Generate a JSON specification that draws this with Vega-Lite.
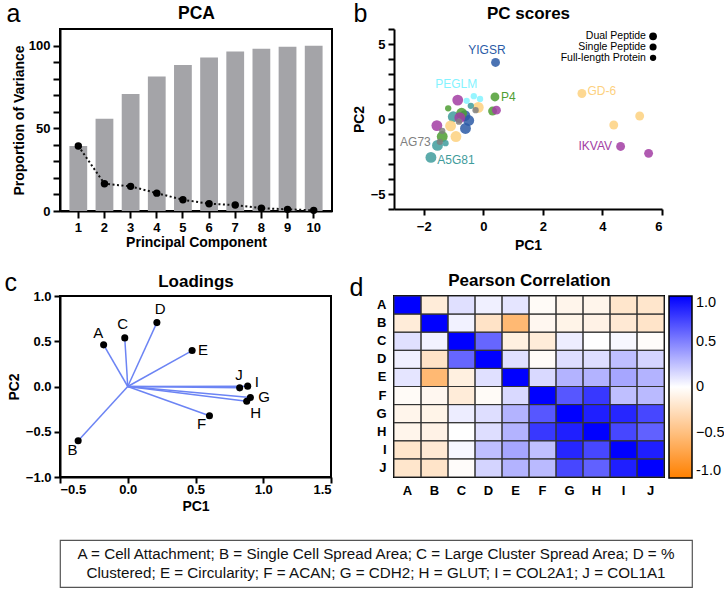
{
  "$schema": "https://vega.github.io/schema/vega-lite/v6.json",
  "background": "white",
  "padding": {"left": 3, "top": 0, "right": 0, "bottom": 0},
  "config": {
    "font": "Liberation Sans",
    "view": {"stroke": null},
    "axis": {
      "labelFont": "Liberation Sans", "titleFont": "Liberation Sans",
      "labelFontWeight": "bold", "titleFontWeight": "bold",
      "labelFontSize": 13, "titleFontSize": 14,
      "labelColor": "black", "titleColor": "black",
      "domainColor": "black", "domainWidth": 2,
      "tickColor": "black", "tickWidth": 2, "tickSize": 6,
      "grid": false
    },
    "legend": {"labelFont": "Liberation Sans"}
  },
  "vconcat": [
    {
      "concat": [
        {
          "width": 272, "height": 182,
          "view": {"stroke": "black", "strokeWidth": 2},
          "data": {"values": [
            {"pc": 1, "cum": 39.3, "var": 39.3},
            {"pc": 2, "cum": 55.8, "var": 16.5},
            {"pc": 3, "cum": 70.7, "var": 14.9},
            {"pc": 4, "cum": 81.3, "var": 10.8},
            {"pc": 5, "cum": 88.2, "var": 6.8},
            {"pc": 6, "cum": 92.8, "var": 4.4},
            {"pc": 7, "cum": 96.4, "var": 3.6},
            {"pc": 8, "cum": 98.0, "var": 1.7},
            {"pc": 9, "cum": 99.3, "var": 1.0},
            {"pc": 10, "cum": 99.9, "var": 0.4}
          ]},
          "layer": [
            {
              "mark": {"type": "bar", "color": "#A4A4A8"},
              "encoding": {
                "x": {"field": "pc", "type": "ordinal",
                  "scale": {"paddingInner": 0.32, "paddingOuter": 0.36},
                  "axis": {"orient": "bottom", "title": "Principal Component", "labelAngle": 0, "tickSize": 7, "labelPadding": 3.5, "titlePadding": 1}},
                "y": {"field": "cum", "type": "quantitative",
                  "scale": {"domain": [0, 110], "nice": false},
                  "axis": {"orient": "left", "title": "Proportion of Variance", "values": [0,10,20,30,40,50,60,70,80,90,100],
                    "labelExpr": "datum.value % 50 == 0 ? datum.label : ''", "tickSize": 7, "labelPadding": 3, "titlePadding": 2}}
              }
            },
            {
              "mark": {"type": "line", "color": "#111111", "strokeDash": [2, 2.5], "strokeWidth": 2},
              "encoding": {
                "x": {"field": "pc", "type": "ordinal",
                  "axis": {"orient": "top", "title": "PCA", "titleFontSize": 17.5, "titleBaseline": "alphabetic", "titleY": -11, "labels": false, "ticks": false, "domain": false}},
                "y": {"field": "var", "type": "quantitative",
                  "scale": {"domain": [0, 110], "nice": false},
                  "axis": {"orient": "left", "title": "a", "titleAngle": 0, "titleAlign": "left", "titleBaseline": "alphabetic",
                    "titleX": -54, "titleY": -8, "titleFontSize": 25, "titleFontWeight": "normal", "labels": false, "ticks": false, "domain": false}}
              }
            },
            {
              "mark": {"type": "circle", "color": "black", "size": 55, "opacity": 1},
              "encoding": {
                "x": {"field": "pc", "type": "ordinal", "axis": null},
                "y": {"field": "var", "type": "quantitative", "scale": {"domain": [0, 110], "nice": false}, "axis": null}
              }
            }
          ],
          "resolve": {"axis": {"x": "independent", "y": "independent"}}
        },
        {
          "width": 268, "height": 180,
          "layer": [
            {
              "data": {"values": [
                {"pep": "A5G81", "pc1": -1.76, "pc2": -2.56, "kind": "Dual Peptide"},
                {"pep": "A5G81", "pc1": -1.54, "pc2": -1.76, "kind": "Dual Peptide"},
                {"pep": "A5G81", "pc1": -1.01, "pc2": 0.15, "kind": "Dual Peptide"},
                {"pep": "GD-6", "pc1": -1.10, "pc2": -0.46, "kind": "Dual Peptide"},
                {"pep": "GD-6", "pc1": -0.92, "pc2": -1.17, "kind": "Dual Peptide"},
                {"pep": "GD-6", "pc1": -0.17, "pc2": 0.77, "kind": "Dual Peptide"},
                {"pep": "IKVAV", "pc1": -0.86, "pc2": 1.26, "kind": "Dual Peptide"},
                {"pep": "IKVAV", "pc1": -1.56, "pc2": -0.44, "kind": "Dual Peptide"},
                {"pep": "YIGSR", "pc1": -0.62, "pc2": 0.22, "kind": "Dual Peptide"},
                {"pep": "YIGSR", "pc1": -0.49, "pc2": -0.10, "kind": "Dual Peptide"},
                {"pep": "YIGSR", "pc1": -0.60, "pc2": -0.63, "kind": "Dual Peptide"},
                {"pep": "P4", "pc1": -0.73, "pc2": 0.38, "kind": "Dual Peptide"},
                {"pep": "P4", "pc1": -1.38, "pc2": -1.17, "kind": "Dual Peptide"},
                {"pep": "IKVAV", "pc1": -0.79, "pc2": 0.09, "kind": "Dual Peptide"},
                {"pep": "YIGSR", "pc1": 0.41, "pc2": 3.77, "kind": "Single Peptide"},
                {"pep": "P4", "pc1": 0.39, "pc2": 1.47, "kind": "Single Peptide"},
                {"pep": "P4", "pc1": 0.31, "pc2": 0.53, "kind": "Single Peptide"},
                {"pep": "IKVAV", "pc1": 0.44, "pc2": 0.59, "kind": "Single Peptide"},
                {"pep": "GD-6", "pc1": 3.31, "pc2": 1.70, "kind": "Single Peptide"},
                {"pep": "GD-6", "pc1": 4.38, "pc2": -0.40, "kind": "Single Peptide"},
                {"pep": "GD-6", "pc1": 5.25, "pc2": 0.20, "kind": "Single Peptide"},
                {"pep": "IKVAV", "pc1": 4.61, "pc2": -1.83, "kind": "Single Peptide"},
                {"pep": "IKVAV", "pc1": 5.55, "pc2": -2.29, "kind": "Single Peptide"},
                {"pep": "PEGLM", "pc1": -0.56, "pc2": 1.21, "kind": "Full-length Protein"},
                {"pep": "PEGLM", "pc1": -0.32, "pc2": 1.52, "kind": "Full-length Protein"},
                {"pep": "PEGLM", "pc1": -0.11, "pc2": 1.34, "kind": "Full-length Protein"},
                {"pep": "P4", "pc1": -1.18, "pc2": 0.71, "kind": "Full-length Protein"},
                {"pep": "A5G81", "pc1": -1.27, "pc2": -1.61, "kind": "Full-length Protein"},
                {"pep": "A5G81", "pc1": -0.42, "pc2": 0.88, "kind": "Full-length Protein"},
                {"pep": "AG73", "pc1": -1.46, "pc2": -1.52, "kind": "Full-length Protein"},
                {"pep": "AG73", "pc1": -1.38, "pc2": -0.79, "kind": "Full-length Protein"},
                {"pep": "AG73", "pc1": -0.82, "pc2": -0.18, "kind": "Full-length Protein"},
                {"pep": "AG73", "pc1": -0.26, "pc2": 0.59, "kind": "Full-length Protein"}
              ]},
              "mark": {"type": "circle", "opacity": 0.85},
              "encoding": {
                "x": {"field": "pc1", "type": "quantitative", "scale": {"domain": [-3, 6], "nice": false, "zero": false},
                  "axis": {"orient": "bottom", "title": "PC1", "values": [-2, 0, 2, 4, 6], "labelPadding": 5, "titlePadding": 5}},
                "y": {"field": "pc2", "type": "quantitative", "scale": {"domain": [-6, 6], "nice": false, "zero": false},
                  "axis": {"orient": "left", "title": "PC2", "values": [-6,-5,-4,-3,-2,-1,0,1,2,3,4,5,6],
                    "labelExpr": "datum.value % 5 == 0 ? datum.label : ''", "labelPadding": 3, "titlePadding": 4}},
                "color": {"field": "pep", "type": "nominal", "legend": null,
                  "scale": {"domain": ["YIGSR", "PEGLM", "P4", "GD-6", "IKVAV", "AG73", "A5G81"],
                    "range": ["#2B5BA6", "#84F3FF", "#4E9E33", "#FDD17F", "#A23DA3", "#7F7F7F", "#3F9C9C"]}},
                "size": {"field": "kind", "type": "nominal", "legend": null,
                  "scale": {"domain": ["Dual Peptide", "Single Peptide", "Full-length Protein"], "range": [118, 40, 18]}}
              }
            },
            {
              "data": {"values": [
                {"pep": "YIGSR", "lx": 0.12, "ly": 4.6},
                {"pep": "PEGLM", "lx": -0.91, "ly": 2.31},
                {"pep": "P4", "lx": 0.84, "ly": 1.47},
                {"pep": "GD-6", "lx": 3.98, "ly": 1.86},
                {"pep": "IKVAV", "lx": 3.76, "ly": -1.83},
                {"pep": "AG73", "lx": -2.28, "ly": -1.5},
                {"pep": "A5G81", "lx": -0.92, "ly": -2.71}
              ]},
              "mark": {"type": "text", "fontSize": 12, "align": "center", "baseline": "middle"},
              "encoding": {
                "x": {"field": "lx", "type": "quantitative",
                  "axis": {"orient": "top", "title": "PC scores", "titleFontSize": 17, "titleBaseline": "alphabetic", "titleY": -11, "labels": false, "ticks": false, "domain": false}},
                "y": {"field": "ly", "type": "quantitative",
                  "axis": {"orient": "left", "title": "b", "titleAngle": 0, "titleAlign": "left", "titleBaseline": "alphabetic",
                    "titleX": -41, "titleY": -8, "titleFontSize": 25, "titleFontWeight": "normal", "labels": false, "ticks": false, "domain": false}},
                "text": {"field": "pep"},
                "color": {"field": "pep", "type": "nominal", "legend": null}
              }
            },
            {
              "data": {"values": [
                {"kind": "Dual Peptide", "tx": 5.46, "ty": 5.51},
                {"kind": "Single Peptide", "tx": 5.46, "ty": 4.8},
                {"kind": "Full-length Protein", "tx": 5.46, "ty": 4.08}
              ]},
              "mark": {"type": "text", "fontSize": 10.5, "align": "right", "baseline": "middle", "color": "black"},
              "encoding": {
                "x": {"field": "tx", "type": "quantitative", "axis": null},
                "y": {"field": "ty", "type": "quantitative", "axis": null},
                "text": {"field": "kind"}
              }
            },
            {
              "data": {"values": [
                {"kind": "Dual Peptide", "sx": 5.7, "sy": 5.51},
                {"kind": "Single Peptide", "sx": 5.7, "sy": 4.8},
                {"kind": "Full-length Protein", "sx": 5.7, "sy": 4.08}
              ]},
              "mark": {"type": "circle", "color": "black", "opacity": 1},
              "encoding": {
                "x": {"field": "sx", "type": "quantitative", "axis": null},
                "y": {"field": "sy", "type": "quantitative", "axis": null},
                "size": {"field": "kind", "type": "nominal", "legend": null,
                  "scale": {"domain": ["Dual Peptide", "Single Peptide", "Full-length Protein"], "range": [60, 40, 24]}}
              }
            }
          ],
          "resolve": {"axis": {"x": "independent", "y": "independent"}, "scale": {"size": "independent"}}
        },
        {
          "width": 271, "height": 181,
          "view": {"stroke": "black", "strokeWidth": 2},
          "data": {"values": [
            {"v": "A", "pc1": -0.178, "pc2": 0.46, "lx": -0.218, "ly": 0.592},
            {"v": "B", "pc1": -0.366, "pc2": -0.60, "lx": -0.408, "ly": -0.702},
            {"v": "C", "pc1": -0.022, "pc2": 0.537, "lx": -0.037, "ly": 0.695},
            {"v": "D", "pc1": 0.215, "pc2": 0.706, "lx": 0.24, "ly": 0.857},
            {"v": "E", "pc1": 0.475, "pc2": 0.397, "lx": 0.556, "ly": 0.408},
            {"v": "F", "pc1": 0.603, "pc2": -0.324, "lx": 0.544, "ly": -0.419},
            {"v": "G", "pc1": 0.905, "pc2": -0.121, "lx": 1.006, "ly": -0.118},
            {"v": "H", "pc1": 0.878, "pc2": -0.162, "lx": 0.944, "ly": -0.29},
            {"v": "I", "pc1": 0.885, "pc2": 0.004, "lx": 0.952, "ly": 0.051},
            {"v": "J", "pc1": 0.826, "pc2": -0.015, "lx": 0.821, "ly": 0.125}
          ]},
          "layer": [
            {
              "mark": {"type": "rule", "color": "#6C84F4", "strokeWidth": 1.5},
              "encoding": {
                "x": {"field": "pc1", "type": "quantitative", "scale": {"domain": [-0.5, 1.5], "nice": false, "zero": false},
                  "axis": {"orient": "bottom", "title": "PC1", "values": [-0.5, 0, 0.5, 1, 1.5], "format": ".1f", "labelPadding": 0, "titlePadding": 3}},
                "y": {"field": "pc2", "type": "quantitative", "scale": {"domain": [-1, 1], "nice": false, "zero": false},
                  "axis": {"orient": "left", "title": "PC2", "values": [-1, -0.5, 0, 0.5, 1], "format": ".1f", "labelPadding": 3, "titlePadding": 4}},
                "x2": {"datum": 0},
                "y2": {"datum": 0}
              }
            },
            {
              "mark": {"type": "circle", "color": "black", "size": 50, "opacity": 1},
              "encoding": {
                "x": {"field": "pc1", "type": "quantitative", "axis": null},
                "y": {"field": "pc2", "type": "quantitative", "axis": null}
              }
            },
            {
              "mark": {"type": "text", "fontSize": 15, "align": "center", "baseline": "middle", "color": "black"},
              "encoding": {
                "x": {"field": "lx", "type": "quantitative",
                  "axis": {"orient": "top", "title": "Loadings", "titleFontSize": 17, "titleBaseline": "alphabetic", "titleY": -10, "labels": false, "ticks": false, "domain": false}},
                "y": {"field": "ly", "type": "quantitative",
                  "axis": {"orient": "left", "title": "c", "titleAngle": 0, "titleAlign": "left", "titleBaseline": "alphabetic",
                    "titleX": -56, "titleY": -6, "titleFontSize": 25, "titleFontWeight": "normal", "labels": false, "ticks": false, "domain": false}},
                "text": {"field": "v"}
              }
            }
          ],
          "resolve": {"axis": {"x": "independent", "y": "independent"}}
        },
        {
          "width": 270, "height": 181,
          "view": {"stroke": "black", "strokeWidth": 2},
          "data": {"values": [
            {"r":"A","c":"A","v":1},{"r":"A","c":"B","v":-0.15},{"r":"A","c":"C","v":0.12},{"r":"A","c":"D","v":0.06},{"r":"A","c":"E","v":0.1},{"r":"A","c":"F","v":-0.03},{"r":"A","c":"G","v":-0.08},{"r":"A","c":"H","v":-0.08},{"r":"A","c":"I","v":-0.2},{"r":"A","c":"J","v":-0.2},
            {"r":"B","c":"A","v":-0.15},{"r":"B","c":"B","v":1},{"r":"B","c":"C","v":0.05},{"r":"B","c":"D","v":-0.22},{"r":"B","c":"E","v":-0.55},{"r":"B","c":"F","v":-0.06},{"r":"B","c":"G","v":-0.09},{"r":"B","c":"H","v":-0.1},{"r":"B","c":"I","v":-0.17},{"r":"B","c":"J","v":-0.21},
            {"r":"C","c":"A","v":0.12},{"r":"C","c":"B","v":0.05},{"r":"C","c":"C","v":1},{"r":"C","c":"D","v":0.6},{"r":"C","c":"E","v":-0.12},{"r":"C","c":"F","v":-0.15},{"r":"C","c":"G","v":0.07},{"r":"C","c":"H","v":0.0},{"r":"C","c":"I","v":0.03},{"r":"C","c":"J","v":-0.02},
            {"r":"D","c":"A","v":0.06},{"r":"D","c":"B","v":-0.22},{"r":"D","c":"C","v":0.6},{"r":"D","c":"D","v":1},{"r":"D","c":"E","v":0.12},{"r":"D","c":"F","v":-0.03},{"r":"D","c":"G","v":0.13},{"r":"D","c":"H","v":0.13},{"r":"D","c":"I","v":0.25},{"r":"D","c":"J","v":0.17},
            {"r":"E","c":"A","v":0.1},{"r":"E","c":"B","v":-0.55},{"r":"E","c":"C","v":-0.12},{"r":"E","c":"D","v":0.12},{"r":"E","c":"E","v":1},{"r":"E","c":"F","v":0.15},{"r":"E","c":"G","v":0.3},{"r":"E","c":"H","v":0.3},{"r":"E","c":"I","v":0.35},{"r":"E","c":"J","v":0.3},
            {"r":"F","c":"A","v":-0.03},{"r":"F","c":"B","v":-0.06},{"r":"F","c":"C","v":-0.15},{"r":"F","c":"D","v":-0.03},{"r":"F","c":"E","v":0.15},{"r":"F","c":"F","v":1},{"r":"F","c":"G","v":0.66},{"r":"F","c":"H","v":0.78},{"r":"F","c":"I","v":0.25},{"r":"F","c":"J","v":0.27},
            {"r":"G","c":"A","v":-0.08},{"r":"G","c":"B","v":-0.09},{"r":"G","c":"C","v":0.07},{"r":"G","c":"D","v":0.13},{"r":"G","c":"E","v":0.3},{"r":"G","c":"F","v":0.66},{"r":"G","c":"G","v":1},{"r":"G","c":"H","v":0.88},{"r":"G","c":"I","v":0.85},{"r":"G","c":"J","v":0.72},
            {"r":"H","c":"A","v":-0.08},{"r":"H","c":"B","v":-0.1},{"r":"H","c":"C","v":0.0},{"r":"H","c":"D","v":0.13},{"r":"H","c":"E","v":0.3},{"r":"H","c":"F","v":0.78},{"r":"H","c":"G","v":0.88},{"r":"H","c":"H","v":1},{"r":"H","c":"I","v":0.72},{"r":"H","c":"J","v":0.62},
            {"r":"I","c":"A","v":-0.2},{"r":"I","c":"B","v":-0.17},{"r":"I","c":"C","v":0.03},{"r":"I","c":"D","v":0.25},{"r":"I","c":"E","v":0.35},{"r":"I","c":"F","v":0.25},{"r":"I","c":"G","v":0.85},{"r":"I","c":"H","v":0.72},{"r":"I","c":"I","v":1},{"r":"I","c":"J","v":0.88},
            {"r":"J","c":"A","v":-0.2},{"r":"J","c":"B","v":-0.21},{"r":"J","c":"C","v":-0.02},{"r":"J","c":"D","v":0.17},{"r":"J","c":"E","v":0.3},{"r":"J","c":"F","v":0.27},{"r":"J","c":"G","v":0.72},{"r":"J","c":"H","v":0.62},{"r":"J","c":"I","v":0.88},{"r":"J","c":"J","v":1}
          ]},
          "layer": [
            {
              "mark": {"type": "rect"},
              "encoding": {
                "x": {"field": "c", "type": "nominal", "sort": ["A","B","C","D","E","F","G","H","I","J"],
                  "axis": {"orient": "bottom", "title": null, "ticks": false, "domain": false, "labelAngle": 0, "labelPadding": 7}},
                "y": {"field": "r", "type": "nominal", "sort": ["A","B","C","D","E","F","G","H","I","J"],
                  "axis": {"orient": "left", "title": null, "ticks": false, "domain": false, "labelPadding": 8}},
                "color": {"field": "v", "type": "quantitative",
                  "scale": {"domain": [-1, 0, 1], "range": ["#FF8000", "#FFFFFF", "#0000FF"], "interpolate": "rgb"},
                  "legend": {"orient": "right", "offset": 5, "title": null, "gradientLength": 182, "gradientThickness": 23,
                    "gradientStrokeColor": "black", "gradientStrokeWidth": 1.5, "values": [-1, -0.5, 0, 0.5, 1],
                    "labelExpr": "datum.value == 1 ? '1.0' : (datum.value == -1 ? '-1.0' : (datum.value == 0 ? '0' : format(datum.value, '.1f')))",
                    "labelFontSize": 14.5, "labelColor": "black", "labelOffset": 4, "labelBaseline": "middle"}}
              }
            },
            {
              "mark": {"type": "rect", "filled": false, "stroke": "#333333", "strokeWidth": 1},
              "encoding": {
                "x": {"field": "c", "type": "nominal", "sort": ["A","B","C","D","E","F","G","H","I","J"],
                  "axis": {"orient": "top", "title": "Pearson Correlation", "titleFontSize": 17, "titleBaseline": "alphabetic", "titleY": -11, "labels": false, "ticks": false, "domain": false}},
                "y": {"field": "r", "type": "nominal", "sort": ["A","B","C","D","E","F","G","H","I","J"],
                  "axis": {"orient": "left", "title": "d", "titleAngle": 0, "titleAlign": "left", "titleBaseline": "alphabetic",
                    "titleX": -45, "titleY": -1, "titleFontSize": 25, "titleFontWeight": "normal", "labels": false, "ticks": false, "domain": false}}
              }
            }
          ],
          "resolve": {"axis": {"x": "independent", "y": "independent"}}
        }
      ],
      "columns": 2,
      "spacing": {"row": 85, "column": 62},
      "bounds": "flush"
    },
    {
      "width": 632, "height": 47,
      "view": {"stroke": "#555555", "strokeWidth": 1.2},
      "data": {"values": [
        {"t": "A = Cell Attachment; B = Single Cell Spread Area; C = Large Cluster Spread Area; D = %\nClustered; E = Circularity; F = ACAN; G = CDH2; H = GLUT; I = COL2A1; J = COL1A1"}
      ]},
      "mark": {"type": "text", "lineBreak": "\n", "fontSize": 15.2, "lineHeight": 19, "align": "center", "baseline": "middle", "dy": -9.5, "color": "#111111"},
      "encoding": {
        "x": {"datum": 0.5, "type": "quantitative", "scale": {"domain": [0, 1]}, "axis": null},
        "y": {"datum": 0.5, "type": "quantitative", "scale": {"domain": [0, 1]}, "axis": null},
        "text": {"field": "t"}
      }
    }
  ],
  "spacing": 25
}
